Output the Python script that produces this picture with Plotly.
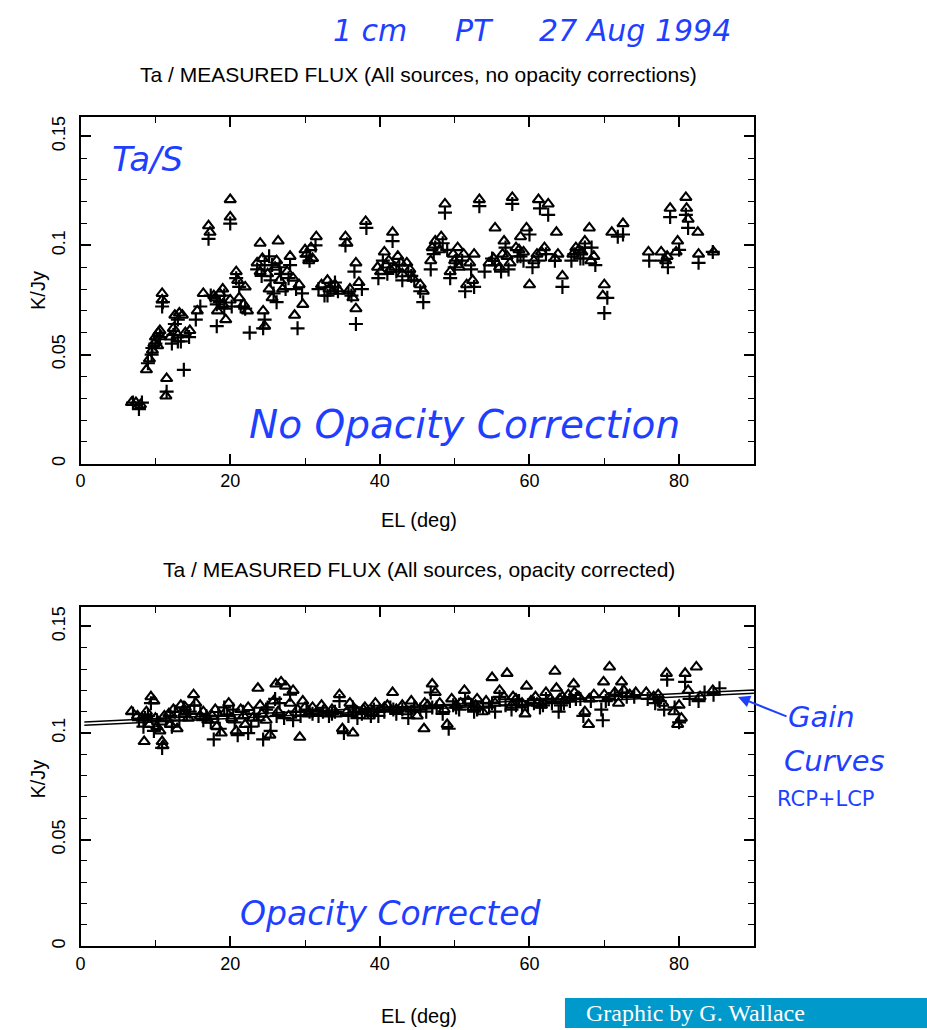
import plotly.graph_objects as go

W, H = 927, 1030

# ---------------- Data ----------------
# Top panel: no opacity correction  (triangles / plus signs)
top_tri_el = [6.8, 7.4, 8.0, 8.8, 9.2, 9.6, 10.0, 10.3, 10.6, 10.9, 10.9, 11.5, 11.4, 12.0, 12.6, 13.2, 13.0, 14.0, 14.6, 15.6,
              16.4, 17.1, 17.3, 17.8, 18.3, 18.6, 19.0, 19.4, 20.0, 20.0, 20.0, 20.8, 21.2, 21.8, 22.3, 24.0, 23.6, 24.0, 24.4, 24.6,
              25.2, 25.6, 26.4, 26.0, 26.6, 27.0, 28.0, 28.4, 28.6, 29.2, 29.7, 30.0, 30.5, 31.5, 31.0, 32.2, 33.0, 33.7, 34.6, 35.4,
              35.6, 36.4, 36.8, 36.8, 37.2, 38.1, 39.7, 40.1, 40.6, 41.7, 41.2, 42.0, 43.0, 43.6, 44.4, 45.4, 45.8, 46.8, 47.4, 48.0,
              48.7, 49.4, 49.8, 50.4, 51.6, 52.0, 52.6, 53.3, 54.6, 55.4, 56.0, 56.6, 57.0, 57.7, 58.2, 58.8, 59.6, 60.0, 60.6, 61.2,
              61.6, 62.5, 63.6, 63.8, 64.4, 65.8, 66.6, 67.4, 68.0, 68.6, 70.0, 69.8, 71.0, 72.5, 75.9, 77.6, 78.2, 78.8, 79.8, 79.6,
              80.9, 81.0, 81.2, 82.5, 82.6, 84.6,
              24.3, 25.0, 26.2, 27.6, 30.2, 30.8, 33.2, 34.0, 36.0, 40.8, 41.4, 42.4, 42.8, 44.0, 47.0, 48.2, 50.0, 50.6, 51.2, 52.4,
              55.2, 56.4, 57.4, 58.6, 59.2, 61.0, 62.0, 63.4, 66.2, 67.0, 68.2, 78.4, 9.8, 10.4, 18.0, 19.0, 21.0, 22.0, 13.6, 12.4]
top_tri_val = [0.028, 0.028, 0.027, 0.043, 0.048, 0.052, 0.058, 0.054, 0.061, 0.078, 0.075, 0.039, 0.031, 0.058, 0.068, 0.069, 0.059, 0.060, 0.061, 0.070,
               0.078, 0.109, 0.106, 0.077, 0.070, 0.078, 0.073, 0.066, 0.121, 0.113, 0.075, 0.088, 0.076, 0.073, 0.070, 0.101, 0.092, 0.088, 0.070, 0.063,
               0.080, 0.076, 0.102, 0.090, 0.084, 0.080, 0.095, 0.085, 0.068, 0.082, 0.073, 0.098, 0.093, 0.104, 0.094, 0.082, 0.084, 0.079, 0.079, 0.104,
               0.101, 0.076, 0.071, 0.092, 0.083, 0.111, 0.090, 0.088, 0.097, 0.106, 0.093, 0.090, 0.087, 0.092, 0.085, 0.082, 0.079, 0.093, 0.102, 0.098,
               0.119, 0.088, 0.096, 0.099, 0.082, 0.092, 0.096, 0.121, 0.092, 0.108, 0.090, 0.102, 0.095, 0.122, 0.099, 0.104, 0.108, 0.082, 0.093, 0.121,
               0.097, 0.119, 0.106, 0.096, 0.086, 0.096, 0.098, 0.102, 0.108, 0.095, 0.082, 0.077, 0.106, 0.110, 0.097, 0.097, 0.093, 0.117, 0.102, 0.097,
               0.122, 0.117, 0.112, 0.106, 0.096, 0.097,
               0.094, 0.087, 0.093, 0.088, 0.096, 0.099, 0.080, 0.082, 0.080, 0.091, 0.089, 0.095, 0.092, 0.089, 0.099, 0.104, 0.093, 0.090, 0.096, 0.084,
               0.094, 0.096, 0.092, 0.098, 0.097, 0.096, 0.099, 0.094, 0.099, 0.097, 0.093, 0.095, 0.055, 0.060, 0.076, 0.080, 0.084, 0.081, 0.068, 0.062]
top_plus_el = [7.0, 7.8, 8.2, 9.0, 9.5, 10.0, 10.5, 10.9, 11.0, 11.5, 12.2, 12.6, 13.0, 13.4, 13.8, 14.5, 15.4, 16.0, 17.1, 17.4,
               18.2, 18.6, 19.2, 20.0, 20.2, 20.8, 21.4, 22.0, 22.6, 23.6, 24.2, 24.6, 24.4, 25.2, 25.6, 25.8, 26.2, 26.8, 27.4, 28.0,
               28.8, 29.0, 29.6, 30.2, 31.4, 31.8, 32.6, 33.4, 34.0, 35.4, 35.8, 36.8, 36.6, 37.6, 38.2, 39.8, 40.4, 41.7, 42.2, 43.0,
               43.8, 44.6, 45.4, 45.8, 46.8, 47.4, 48.7, 49.0, 49.4, 50.2, 51.4, 52.2, 53.3, 54.0, 55.0, 56.2, 56.8, 57.7, 58.4, 59.2,
               60.0, 60.4, 61.4, 62.5, 63.4, 64.4, 65.6, 66.8, 67.4, 68.3, 68.8, 70.0, 70.4, 71.8, 72.5, 76.0, 77.8, 78.5, 78.8, 80.0,
               80.9, 81.2, 82.6, 84.5,
               24.6, 25.4, 26.6, 27.8, 30.6, 33.0, 34.4, 36.2, 41.0, 42.6, 44.2, 47.2, 48.4, 50.0, 51.0, 52.6, 55.4, 57.2, 58.8, 61.2,
               62.2, 66.0, 67.2, 9.6, 10.6, 18.2, 19.2, 21.2, 12.4, 13.0]
top_plus_val = [0.028, 0.025, 0.028, 0.046, 0.050, 0.055, 0.057, 0.072, 0.074, 0.033, 0.055, 0.064, 0.066, 0.056, 0.043, 0.058, 0.066, 0.072, 0.103, 0.077,
                0.063, 0.074, 0.071, 0.110, 0.072, 0.085, 0.072, 0.071, 0.060, 0.089, 0.086, 0.066, 0.062, 0.095, 0.091, 0.078, 0.074, 0.087, 0.080, 0.091,
                0.080, 0.062, 0.078, 0.095, 0.100, 0.080, 0.077, 0.081, 0.083, 0.100, 0.078, 0.064, 0.088, 0.080, 0.108, 0.085, 0.093, 0.102, 0.088, 0.084,
                0.088, 0.084, 0.079, 0.074, 0.089, 0.099, 0.115, 0.098, 0.085, 0.093, 0.079, 0.089, 0.118, 0.088, 0.094, 0.088, 0.099, 0.119, 0.095, 0.093,
                0.105, 0.090, 0.117, 0.114, 0.093, 0.081, 0.093, 0.094, 0.099, 0.099, 0.091, 0.069, 0.076, 0.104, 0.105, 0.093, 0.093, 0.090, 0.113, 0.098,
                0.114, 0.108, 0.092, 0.097,
                0.091, 0.084, 0.090, 0.085, 0.093, 0.077, 0.079, 0.077, 0.087, 0.091, 0.086, 0.096, 0.101, 0.090, 0.093, 0.081, 0.091, 0.089, 0.095, 0.093,
                0.096, 0.096, 0.094, 0.053, 0.058, 0.073, 0.077, 0.081, 0.059, 0.056]

# Bottom panel: opacity corrected
bot_tri_el = [6.8, 7.6, 8.2, 8.5, 9.2, 9.4, 9.8, 10.2, 10.6, 10.9, 11.2, 11.0, 11.8, 12.4, 12.9, 13.4, 13.8, 14.4, 15.1, 15.4,
              16.4, 17.0, 17.6, 18.2, 18.8, 19.4, 19.8, 20.8, 21.4, 21.8, 22.4, 23.0, 23.7, 24.2, 24.8, 25.3, 25.8, 26.1, 26.8, 27.4,
              28.0, 28.4, 29.3, 29.0, 29.7, 30.4, 31.0, 31.6, 32.2, 33.0, 33.6, 34.6, 35.0, 35.6, 36.0, 36.4, 37.0, 37.8, 38.6, 39.4,
              40.0, 40.6, 41.7, 42.2, 43.0, 43.6, 44.2, 45.0, 45.9, 46.4, 47.0, 47.4, 48.0, 48.6, 49.0, 49.6, 50.2, 51.3, 51.8, 52.4,
              53.0, 53.7, 55.0, 55.4, 56.0, 56.6, 57.0, 57.6, 58.2, 59.0, 59.4, 59.6, 60.2, 60.8, 61.6, 62.2, 62.8, 63.4, 63.6, 64.4,
              65.2, 65.9, 66.6, 67.4, 67.9, 68.6, 69.9, 70.7, 71.4, 71.9, 72.3, 72.6, 73.4, 75.6, 77.2, 77.8, 78.3, 79.3, 79.8, 80.3,
              80.8, 81.2, 82.3, 82.8, 84.5,
              8.8, 10.0, 12.0, 14.0, 16.0, 18.0, 20.2, 22.0, 24.0, 26.4, 27.8, 30.0, 32.6, 34.2, 38.0, 39.0, 41.0, 44.8, 46.0, 50.8,
              52.8, 54.2, 57.8, 61.0, 64.0, 66.0, 68.0, 70.0, 74.2, 76.6, 80.0]
bot_tri_val = [0.110, 0.108, 0.107, 0.096, 0.104, 0.117, 0.115, 0.103, 0.101, 0.096, 0.108, 0.094, 0.109, 0.111, 0.102, 0.113, 0.109, 0.107, 0.118, 0.114,
               0.110, 0.106, 0.108, 0.103, 0.100, 0.110, 0.114, 0.101, 0.111, 0.108, 0.112, 0.107, 0.121, 0.109, 0.106, 0.099, 0.115, 0.123, 0.124, 0.122,
               0.114, 0.120, 0.098, 0.111, 0.115, 0.109, 0.112, 0.110, 0.113, 0.109, 0.111, 0.118, 0.102, 0.110, 0.114, 0.100, 0.110, 0.111, 0.108, 0.114,
               0.111, 0.112, 0.119, 0.111, 0.113, 0.110, 0.115, 0.108, 0.102, 0.113, 0.123, 0.119, 0.114, 0.111, 0.104, 0.116, 0.113, 0.120, 0.115, 0.112,
               0.116, 0.110, 0.126, 0.114, 0.120, 0.117, 0.128, 0.113, 0.116, 0.114, 0.109, 0.122, 0.115, 0.117, 0.113, 0.119, 0.116, 0.129, 0.121, 0.117,
               0.118, 0.123, 0.117, 0.110, 0.104, 0.118, 0.124, 0.131, 0.119, 0.114, 0.124, 0.120, 0.118, 0.119, 0.118, 0.114, 0.128, 0.110, 0.104, 0.107,
               0.128, 0.120, 0.131, 0.117, 0.120,
               0.110, 0.107, 0.104, 0.112, 0.108, 0.111, 0.107, 0.104, 0.113, 0.110, 0.108, 0.112, 0.111, 0.109, 0.112, 0.110, 0.113, 0.112, 0.114, 0.114,
               0.113, 0.115, 0.117, 0.114, 0.116, 0.119, 0.116, 0.118, 0.119, 0.117, 0.113]
bot_plus_el = [7.0, 7.8, 8.4, 9.0, 9.4, 9.8, 10.4, 10.9, 11.4, 12.0, 12.6, 13.2, 13.8, 14.6, 15.2, 16.0, 16.8, 17.4, 17.8, 18.6,
               19.2, 19.6, 20.4, 21.0, 21.7, 22.4, 23.2, 23.8, 24.4, 25.0, 25.4, 26.0, 26.6, 27.2, 28.0, 28.8, 29.4, 30.2, 31.0, 31.8,
               32.4, 33.2, 34.0, 34.6, 35.2, 35.8, 36.4, 37.0, 37.6, 38.4, 39.2, 39.8, 40.6, 41.4, 42.2, 43.0, 43.8, 44.6, 45.4, 46.2,
               46.8, 47.6, 48.4, 49.2, 49.8, 50.6, 51.4, 52.2, 53.0, 53.8, 54.6, 55.4, 56.0, 56.8, 57.6, 58.2, 59.0, 59.8, 60.6, 61.4,
               62.2, 63.0, 63.9, 64.6, 65.4, 66.2, 67.2, 68.2, 69.6, 69.8, 70.6, 71.4, 72.4, 73.0, 75.8, 77.4, 78.0, 78.4, 79.4, 80.0,
               80.8, 81.4, 82.6, 84.6, 85.4,
               8.6, 10.2, 12.2, 14.2, 16.4, 18.4, 20.6, 22.8, 24.8, 26.2, 28.4, 30.6, 33.6, 36.8, 38.8, 41.8, 44.2, 47.0, 50.2, 52.6,
               55.0, 58.6, 61.8, 64.2, 66.8, 70.2, 74.0, 76.8, 83.4]
bot_plus_val = [0.109, 0.106, 0.103, 0.108, 0.114, 0.101, 0.104, 0.093, 0.106, 0.108, 0.110, 0.106, 0.112, 0.110, 0.113, 0.109, 0.108, 0.105, 0.097, 0.102,
                0.112, 0.108, 0.111, 0.099, 0.110, 0.100, 0.109, 0.106, 0.097, 0.112, 0.101, 0.116, 0.114, 0.107, 0.118, 0.110, 0.108, 0.111, 0.109, 0.108,
                0.110, 0.108, 0.110, 0.115, 0.100, 0.108, 0.112, 0.107, 0.109, 0.110, 0.111, 0.108, 0.110, 0.112, 0.109, 0.111, 0.107, 0.112, 0.111, 0.110,
                0.119, 0.112, 0.109, 0.102, 0.113, 0.111, 0.116, 0.113, 0.111, 0.112, 0.112, 0.110, 0.117, 0.113, 0.111, 0.113, 0.112, 0.113, 0.114, 0.112,
                0.116, 0.114, 0.110, 0.114, 0.115, 0.116, 0.108, 0.115, 0.111, 0.106, 0.116, 0.118, 0.119, 0.117, 0.116, 0.115, 0.111, 0.125, 0.112, 0.105,
                0.124, 0.116, 0.115, 0.118, 0.121,
                0.107, 0.106, 0.103, 0.109, 0.106, 0.108, 0.105, 0.103, 0.111, 0.108, 0.106, 0.110, 0.109, 0.110, 0.108, 0.111, 0.110, 0.112, 0.112, 0.110,
                0.114, 0.115, 0.113, 0.113, 0.116, 0.115, 0.117, 0.114, 0.119]

# Gain curves (RCP & LCP)
gain_el = [0.5, 45.0, 90.0]
gain_rcp = [0.1052, 0.1128, 0.1202]
gain_lcp = [0.1036, 0.1112, 0.1186]

x_ticks = [0, 20, 40, 60, 80]
y_ticks = [0, 0.05, 0.1, 0.15]
y_ticktext = ["0", "0.05", "0.1", "0.15"]

# ---------------- Layout helpers ----------------
def px_x(p):
    return p / W

def px_y(p):
    return 1 - p / H

FRAME_L, FRAME_R = 76, 753
TOP_T, TOP_B = 116, 464
BOT_T, BOT_B = 608, 948

fig = go.Figure()

tri = dict(symbol="triangle-up-open", size=10, color="black", line=dict(width=2.1, color="black"))
plus = dict(symbol="cross-thin", size=10, color="black", line=dict(width=2.2, color="black"))

fig.add_trace(go.Scatter(x=top_tri_el, y=top_tri_val, mode="markers", marker=tri, xaxis="x", yaxis="y", showlegend=False))
fig.add_trace(go.Scatter(x=top_plus_el, y=top_plus_val, mode="markers", marker=plus, xaxis="x", yaxis="y", showlegend=False))
fig.add_trace(go.Scatter(x=bot_tri_el, y=bot_tri_val, mode="markers", marker=tri, xaxis="x2", yaxis="y2", showlegend=False))
fig.add_trace(go.Scatter(x=bot_plus_el, y=bot_plus_val, mode="markers", marker=plus, xaxis="x2", yaxis="y2", showlegend=False))
fig.add_trace(go.Scatter(x=gain_el, y=gain_rcp, mode="lines", line=dict(color="black", width=1.5), xaxis="x2", yaxis="y2", showlegend=False))
fig.add_trace(go.Scatter(x=gain_el, y=gain_lcp, mode="lines", line=dict(color="black", width=1.5), xaxis="x2", yaxis="y2", showlegend=False))

tick_font = dict(family="Liberation Sans", size=18, color="black")

def xax(anchor):
    return dict(domain=[px_x(FRAME_L), px_x(FRAME_R)], range=[0, 90], anchor=anchor,
                tickvals=x_ticks, ticks="inside", ticklen=10, tickwidth=1.6, tickcolor="black",
                minor=dict(dtick=10, tick0=0, ticks="inside", ticklen=6, tickwidth=1.3, tickcolor="black"),
                showline=True, linewidth=2, linecolor="black", mirror="ticks",
                showgrid=False, zeroline=False, tickfont=tick_font, fixedrange=True)

def yax(dom, anchor):
    return dict(domain=dom, range=[0, 0.159], anchor=anchor,
                tickvals=y_ticks, ticktext=y_ticktext, tickangle=-90, ticklabelstandoff=6,
                ticks="inside", ticklen=10, tickwidth=1.6, tickcolor="black",
                minor=dict(dtick=0.01, tick0=0, ticks="inside", ticklen=6, tickwidth=1.3, tickcolor="black"),
                showline=True, linewidth=2, linecolor="black", mirror="ticks",
                showgrid=False, zeroline=False, tickfont=tick_font, fixedrange=True)

fig.update_layout(
    width=W, height=H,
    margin=dict(l=0, r=0, t=0, b=0),
    paper_bgcolor="white", plot_bgcolor="white",
    xaxis=xax("y"),
    yaxis=yax([px_y(TOP_B), px_y(TOP_T)], "x"),
    xaxis2=xax("y2"),
    yaxis2=yax([px_y(BOT_B), px_y(BOT_T)], "x2"),
)

def note(text, x, y, font, **kw):
    d = dict(text=text, x=px_x(x), y=px_y(y), xref="paper", yref="paper", showarrow=False,
             xanchor="center", yanchor="middle", font=font)
    d.update(kw)
    return d

ann = []
title_font = dict(family="Liberation Sans", size=21, color="black")
label_font = dict(family="Liberation Sans", size=20, color="black")
ann.append(note("Ta / MEASURED FLUX (All sources, no opacity corrections)", 416, 74, title_font))
ann.append(note("Ta / MEASURED FLUX (All sources, opacity corrected)", 416, 570, title_font))
ann.append(note("EL (deg)", 416, 521, label_font))
ann.append(note("EL (deg)", 416, 1018, label_font))
ann.append(note("K/Jy", 33, 290, label_font, textangle=-90))
ann.append(note("K/Jy", 33, 780, label_font, textangle=-90))

# handwritten annotations (blue ink)
ink = "#1f3fff"
hand = dict(family="DejaVu Sans", color=ink, style="italic", weight=300)
ann.append(note("1 cm     PT     27 Aug 1994", 530, 30, dict(hand, size=30)))
ann.append(note("Ta/S", 143, 158, dict(hand, size=34)))
ann.append(note("No Opacity Correction", 462, 425, dict(hand, size=39)))
ann.append(note("Opacity Corrected", 388, 915, dict(hand, size=33)))
ann.append(note("Gain", 785, 718, dict(hand, size=29), xanchor="left"))
ann.append(note("Curves", 781, 762, dict(hand, size=29), xanchor="left"))
ann.append(note("RCP+LCP", 774, 800, dict(family="DejaVu Sans", color=ink, size=21), xanchor="left"))
ann.append(dict(text="", x=px_x(737), y=px_y(698), xref="paper", yref="paper", showarrow=True,
                ax=50, ay=20, axref="pixel", ayref="pixel", arrowhead=2, arrowsize=1.2,
                arrowwidth=2, arrowcolor=ink))

# credit box text
ann.append(note("Graphic by G. Wallace", 582, 1015, dict(family="Liberation Serif", size=24, color="white"),
                xanchor="left"))

fig.update_layout(annotations=ann)

fig.add_shape(type="rect", xref="paper", yref="paper", x0=px_x(563), x1=1.0, y0=0, y1=px_y(1000),
              fillcolor="#0099cc", line=dict(width=0), layer="below")

fig.write_html("out.html")
